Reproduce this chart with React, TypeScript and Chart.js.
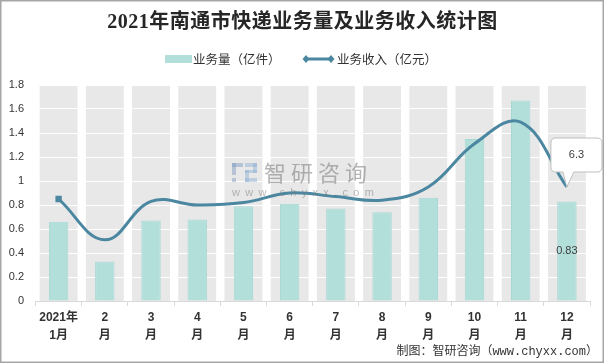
import { useEffect, useRef } from 'react';
import { Chart, registerables } from 'chart.js';

Chart.register(...registerables);

const titleText = '2021年南通市快递业务量及业务收入统计图';
const sourceText = '制图：智研咨询（www.chyxx.com）';
const months: string[][] = [
  ['2021年', '1月'], ['2', '月'], ['3', '月'], ['4', '月'], ['5', '月'], ['6', '月'],
  ['7', '月'], ['8', '月'], ['9', '月'], ['10', '月'], ['11', '月'], ['12', '月'],
];
const volumeLabel = '业务量（亿件）';
const incomeLabel = '业务收入（亿元）';
const volume = [0.66, 0.33, 0.67, 0.68, 0.79, 0.81, 0.77, 0.74, 0.86, 1.35, 1.67, 0.83];
const income = [0.85, 0.51, 0.83, 0.8, 0.82, 0.9, 0.87, 0.84, 0.95, 1.31, 1.49, 0.95];
const lastVolumeLabel = '0.83';
const lastIncomeLabel = '6.3';
const yMin = 0;
const yMax = 1.8;
const yStep = 0.2;

const BAR_FILL = '#b3dfdb';
const BAR_BORDER = '#a5d8d3';
const LINE_COLOR = '#4b87a0';
const SANS = '"Liberation Sans", "Noto Sans CJK SC", sans-serif';
const CJK = '"Noto Sans CJK SC", "Liberation Sans", sans-serif';

export default function App() {
  const ref = useRef<HTMLCanvasElement | null>(null);

  useEffect(() => {
    document.body.style.margin = '0';
    const canvas = ref.current;
    if (!canvas) return;

    const decor = {
      id: 'decor',
      beforeDraw(chart: any) {
        const { ctx } = chart;
        const x = chart.scales.x;
        const y = chart.scales.y;
        const top = y.getPixelForValue(yMax);
        const bottom = y.getPixelForValue(yMin);
        const w = (x.width / months.length) * 0.82;
        ctx.save();
        ctx.fillStyle = '#e8e8e8';
        for (let i = 0; i < months.length; i++) {
          const cx = x.getPixelForValue(i);
          ctx.fillRect(cx - w / 2, top, w, bottom - top);
        }
        ctx.restore();
      },
      afterDatasetsDraw(chart: any) {
        const { ctx } = chart;
        const barMeta = chart.getDatasetMeta(0);
        const lastBar = barMeta.data[barMeta.data.length - 1];
        ctx.save();
        ctx.font = `11px ${SANS}`;
        ctx.fillStyle = '#404040';
        ctx.textAlign = 'center';
        ctx.textBaseline = 'middle';
        ctx.fillText(lastVolumeLabel, lastBar.x, (lastBar.y + lastBar.base) / 2);
        ctx.restore();

        // watermark
        ctx.save();
        ctx.fillStyle = 'rgba(120,150,190,0.45)';
        ctx.fillRect(232, 163, 11, 4);
        ctx.fillRect(232, 163, 4, 12);
        ctx.fillRect(232, 178, 4, 4);
        ctx.fillStyle = 'rgba(140,175,210,0.45)';
        ctx.fillRect(245, 163, 12, 4);
        ctx.fillRect(253, 163, 4, 10);
        ctx.fillRect(245, 170, 12, 3);
        ctx.fillRect(245, 170, 4, 12);
        ctx.fillRect(245, 178, 12, 4);
        ctx.font = `22px ${CJK}`;
        ctx.fillStyle = 'rgba(120,120,120,0.55)';
        ctx.textAlign = 'left';
        ctx.textBaseline = 'middle';
        (ctx as any).letterSpacing = '5px';
        ctx.fillText('智研咨询', 264, 173);
        ctx.font = `11px ${SANS}`;
        (ctx as any).letterSpacing = '5.3px';
        ctx.fillStyle = 'rgba(120,120,120,0.5)';
        ctx.fillText('www.chyxx.com', 232, 193);
        (ctx as any).letterSpacing = '0px';
        ctx.restore();

        // callout for last line point
        const lineMeta = chart.getDatasetMeta(1);
        const p = lineMeta.data[lineMeta.data.length - 1];
        const tipX = p.x;
        const tipY = p.y;
        const bl = tipX - 16, br = Math.min(tipX + 36, chart.width - 3);
        const bt = tipY - 49, bb = tipY - 15;
        const r = 5;
        ctx.save();
        ctx.beginPath();
        ctx.moveTo(bl + r, bt);
        ctx.lineTo(br - r, bt);
        ctx.quadraticCurveTo(br, bt, br, bt + r);
        ctx.lineTo(br, bb - r);
        ctx.quadraticCurveTo(br, bb, br - r, bb);
        ctx.lineTo(tipX + 7, bb);
        ctx.lineTo(tipX, tipY);
        ctx.lineTo(tipX - 4, bb);
        ctx.lineTo(bl + r, bb);
        ctx.quadraticCurveTo(bl, bb, bl, bb - r);
        ctx.lineTo(bl, bt + r);
        ctx.quadraticCurveTo(bl, bt, bl + r, bt);
        ctx.closePath();
        ctx.fillStyle = '#ffffff';
        ctx.fill();
        ctx.strokeStyle = '#bfbfbf';
        ctx.lineWidth = 1;
        ctx.stroke();
        ctx.font = `11px ${SANS}`;
        ctx.fillStyle = '#404040';
        ctx.textAlign = 'center';
        ctx.textBaseline = 'middle';
        ctx.fillText(lastIncomeLabel, (bl + br) / 2, (bt + bb) / 2);
        ctx.restore();
      },
      afterDraw(chart: any) {
        const { ctx } = chart;
        ctx.save();
        ctx.font = `bold 20px "Liberation Serif", "Noto Sans CJK SC", serif`;
        ctx.fillStyle = '#262626';
        ctx.textAlign = 'center';
        ctx.textBaseline = 'middle';
        (ctx as any).letterSpacing = '0.5px';
        ctx.fillText(titleText, chart.width / 2, 23);
        (ctx as any).letterSpacing = '0px';

        const ly = 59;
        ctx.fillStyle = BAR_FILL;
        ctx.fillRect(165, ly - 4, 27, 8);
        ctx.font = `12.5px ${CJK}`;
        ctx.fillStyle = '#333333';
        ctx.textAlign = 'left';
        ctx.fillText(chart.data.datasets[0].label, 193, ly);
        ctx.strokeStyle = LINE_COLOR;
        ctx.lineWidth = 3;
        ctx.beginPath();
        ctx.moveTo(306, ly);
        ctx.lineTo(331, ly);
        ctx.stroke();
        ctx.fillStyle = LINE_COLOR;
        for (const dx of [306, 331]) {
          ctx.beginPath();
          ctx.moveTo(dx, ly - 4);
          ctx.lineTo(dx + 3.5, ly);
          ctx.lineTo(dx, ly + 4);
          ctx.lineTo(dx - 3.5, ly);
          ctx.closePath();
          ctx.fill();
        }
        ctx.fillStyle = '#333333';
        ctx.fillText(chart.data.datasets[1].label, 337, ly);

        ctx.font = `12px "Liberation Mono", "Noto Sans CJK SC", monospace`;
        ctx.textAlign = 'right';
        ctx.fillStyle = '#333333';
        ctx.fillText(sourceText, 598, 352);

        ctx.strokeStyle = '#a6a6a6';
        ctx.lineWidth = 1.5;
        ctx.strokeRect(0.75, 0.75, 602.5, 361.5);
        ctx.restore();
      },
    };

    const chart = new Chart(canvas, {
      type: 'bar',
      data: {
        labels: months,
        datasets: [
          {
            type: 'bar',
            label: volumeLabel,
            data: volume,
            backgroundColor: BAR_FILL,
            borderColor: BAR_BORDER,
            borderWidth: 1,
            barPercentage: 0.42,
            categoryPercentage: 1,
            order: 1,
          },
          {
            type: 'line',
            label: incomeLabel,
            data: income,
            borderColor: LINE_COLOR,
            backgroundColor: LINE_COLOR,
            borderWidth: 3,
            tension: 0.4,
            pointStyle: 'rect',
            pointRadius: income.map((_, i) => (i === 0 ? 4.5 : 0)),
            pointBorderWidth: 0,
            pointBackgroundColor: LINE_COLOR,
            fill: false,
            order: 0,
          },
        ],
      },
      options: {
        responsive: false,
        animation: false,
        devicePixelRatio: 1,
        layout: { padding: { top: 85, right: 15, left: 0, bottom: 0 } },
        plugins: {
          legend: { display: false },
          tooltip: { enabled: false },
          title: { display: false },
        },
        scales: {
          x: {
            type: 'category',
            offset: true,
            afterFit: (s: any) => { s.height = 63; },
            grid: {
              offset: true,
              drawOnChartArea: false,
              drawTicks: true,
              tickLength: 5,
              color: '#d9d9d9',
            },
            border: { display: true, color: '#d9d9d9', width: 1 },
            ticks: {
              autoSkip: false,
              maxRotation: 0,
              padding: 3,
              color: '#333333',
              font: { family: SANS, size: 12, weight: 'bold', lineHeight: 1.5 },
            },
          },
          y: {
            min: yMin,
            max: yMax,
            afterFit: (s: any) => { s.width = 35.5; },
            grid: {
              drawTicks: false,
              color: (c: any) => (c.tick && c.tick.value === 0 ? 'rgba(0,0,0,0)' : '#ffffff'),
              lineWidth: 1,
            },
            border: { display: false },
            ticks: {
              stepSize: yStep,
              padding: 11.5,
              color: '#333333',
              font: { family: SANS, size: 11 },
              callback: (v: any) => String(parseFloat(Number(v).toFixed(1))),
            },
          },
        },
      },
      plugins: [decor],
    } as any);

    return () => chart.destroy();
  }, []);

  return (
    <div style={{ width: 605, height: 364 }}>
      <canvas ref={ref} width={605} height={364} />
    </div>
  );
}
